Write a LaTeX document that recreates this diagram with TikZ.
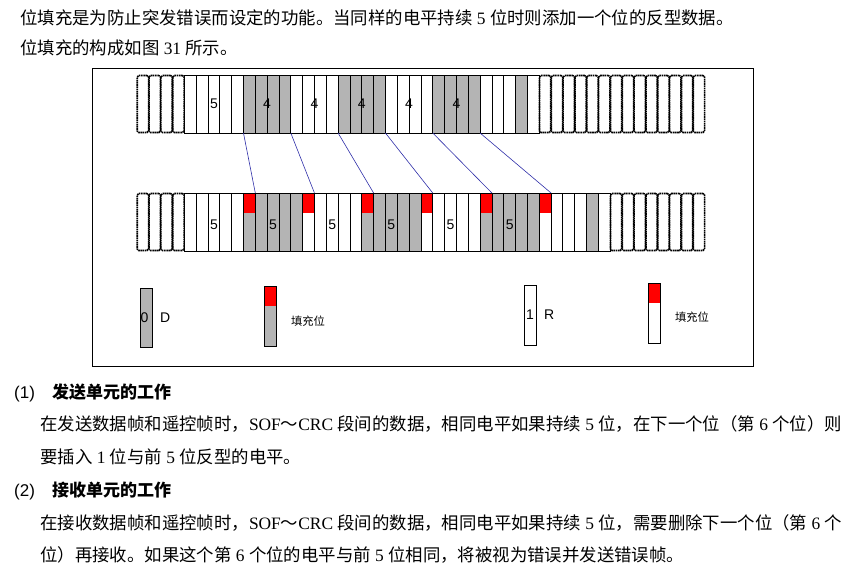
\documentclass[tikz,border=0pt]{standalone}
\usepackage{fontspec}
\setmainfont{Liberation Serif}
\newfontfamily\cjk{Noto Sans CJK SC}
\newfontfamily\arialsf{Liberation Sans}
\usepackage{tikz}
\usetikzlibrary{positioning,calc}
\definecolor{bitgray}{HTML}{B4B4B4}
\definecolor{stuffred}{HTML}{FF0000}
\definecolor{linkblue}{HTML}{2E2EA8}
\tikzset{
  bit/cell/.style={draw, line width=0.8pt, fill=white, minimum width=11.83pt, minimum height=58pt, inner sep=0pt, outer sep=0pt},
  bit/white/.style={bit/cell},
  bit/gray/.style={bit/cell, fill=bitgray},
  bit/stuff/.style={path picture={\fill[stuffred] (path picture bounding box.north west) rectangle ([yshift=-20pt]path picture bounding box.north east);}},
  bit/stuffgray/.style={bit/gray, bit/stuff},
  bit/stuffwhite/.style={bit/white, bit/stuff},
  bit/idle/.style={draw, line width=1.6pt, dash pattern=on 1.6pt off 0.6pt, rounded corners=1.5pt, minimum width=11.3pt, minimum height=57pt, inner sep=0pt, outer sep=0pt},
  bit/label/.style={font=\arialsf\fontsize{14}{14}\selectfont, inner sep=0pt},
  bit/link/.style={draw=linkblue, line width=0.6pt},
  txt/body/.style={anchor=base west, inner sep=0pt, font=\fontsize{17.4}{20}\selectfont},
  txt/head/.style={anchor=base west, inner sep=0pt, font=\arialsf\fontsize{17}{20}\selectfont},
  txt/key/.style={inner sep=0pt, font=\cjk\fontsize{11.3}{12}\selectfont}
}
\newcommand{\zhtext}[1]{{\cjk #1}}

\begin{document}
\begin{tikzpicture}[x=1pt, y=-1pt]
  \useasboundingbox (0,0) rectangle (858,568);

  \node[txt/body] (intro1) at (20,24) {\zhtext{位填充是为防止突发错误而设定的功能。当同样的电平持续} 5 \zhtext{位时则添加一个位的反型数据。}};
  \node[txt/body] (intro2) at (20,54) {\zhtext{位填充的构成如图} 31 \zhtext{所示。}};

  \draw[line width=0.8pt] (92,68) rectangle (753,366);

  % original bit stream
  \foreach \kind [count=\i] in {idle,idle,idle,idle,white,white,white,white,white,gray,gray,gray,gray,white,white,white,white,gray,gray,gray,gray,white,white,white,white,gray,gray,gray,gray,white,white,white,gray,white,idle,idle,idle,idle,idle,idle,idle,idle,idle,idle,idle,idle,idle,idle}
    \node[bit/\kind] (t\i) at ({137+(\i-0.5)*11.83},104) {};
  \node[bit/label] (topRun1) at (t7) {5};
  \foreach \c [count=\n from 2] in {11,15,19,23,27}
    \node[bit/label] (topRun\n) at (t\c.east) {4};

  % stuffed bit stream
  \foreach \kind [count=\i] in {idle,idle,idle,idle,white,white,white,white,white,stuffgray,gray,gray,gray,gray,stuffwhite,white,white,white,white,stuffgray,gray,gray,gray,gray,stuffwhite,white,white,white,white,stuffgray,gray,gray,gray,gray,stuffwhite,white,white,white,gray,white,idle,idle,idle,idle,idle,idle,idle,idle}
    \node[bit/\kind] (b\i) at ({137+(\i-0.5)*11.83},222) {};
  \foreach \c [count=\n] in {7,12,17,22,27,32}
    \node[bit/label] (botRun\n) at ([yshift=-3pt]b\c) {5};

  \foreach \a/\b in {9/10,13/15,17/20,21/25,25/30,29/35}
    \draw[bit/link] (t\a.south east) -- (b\b.north east);

  % legend
  \node[bit/gray, minimum height=59pt] (keyDom) at (146,317.5) {};
  \node[bit/label] (keyDomBit) at ([xshift=-1.5pt]keyDom) {0};
  \node[bit/label, right=8pt of keyDom] (keyDomName) {D};
  \node[bit/stuffgray, minimum height=60pt] (keyStuffD) at (270,316) {};
  \node[txt/key] (keyStuffDText) at (308,321) {填充位};
  \node[bit/white, minimum height=60pt] (keyRec) at (530,315) {};
  \node[bit/label] (keyRecBit) at (keyRec) {1};
  \node[bit/label, right=8pt of keyRec] (keyRecName) {R};
  \node[bit/stuffwhite, minimum height=60pt] (keyStuffR) at (654,313) {};
  \node[txt/key] (keyStuffRText) at (692,317) {填充位};

  \node[txt/head] (sendNo) at (14,398) {(1)};
  \node[txt/head] (sendHead) at (52,398) {\cjk\bfseries 发送单元的工作};
  \node[txt/body] (send1) at (40,430) {\zhtext{在发送数据帧和遥控帧时，}SOF\zhtext{～}CRC \zhtext{段间的数据，相同电平如果持续} 5 \zhtext{位，在下一个位（第} 6 \zhtext{个位）则}};
  \node[txt/body] (send2) at (40,463) {\zhtext{要插入} 1 \zhtext{位与前} 5 \zhtext{位反型的电平。}};

  \node[txt/head] (recvNo) at (14,496) {(2)};
  \node[txt/head] (recvHead) at (52,496) {\cjk\bfseries 接收单元的工作};
  \node[txt/body] (recv1) at (40,529) {\zhtext{在接收数据帧和遥控帧时，}SOF\zhtext{～}CRC \zhtext{段间的数据，相同电平如果持续} 5 \zhtext{位，需要删除下一个位（第} 6 \zhtext{个}};
  \node[txt/body] (recv2) at (40,561) {\zhtext{位）再接收。如果这个第} 6 \zhtext{个位的电平与前} 5 \zhtext{位相同，将被视为错误并发送错误帧。}};
\end{tikzpicture}
\end{document}
